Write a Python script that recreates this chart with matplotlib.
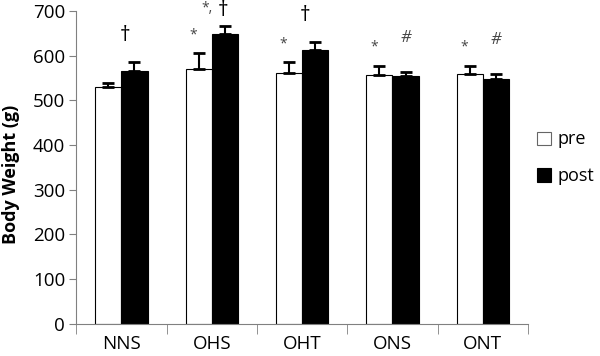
import numpy as np
import matplotlib.pyplot as plt

plt.rcParams['font.family'] = ['Open Sans', 'DejaVu Sans']

groups = ['NNS', 'OHS', 'OHT', 'ONS', 'ONT']
pre = [529, 570, 562, 556, 560]
pre_err = [10, 35, 23, 22, 18]
post = [566, 649, 613, 554, 548]
post_err = [20, 18, 18, 10, 12]
pre_marks = ['', '*', '*', '*', '*']
post_marks = ['\u2020', '*, \u2020', '\u2020', '#', '#']

fig = plt.figure(figsize=(6, 3.56), dpi=100)
ax = fig.add_axes([0.127, 0.091, 0.753, 0.878])

x = np.arange(len(groups))
w = 0.29
ekw = dict(lw=1.5, capthick=2)
ax.bar(x - w / 2, pre, w, color='white', edgecolor='black', lw=0.8,
       yerr=[np.zeros(5), pre_err], capsize=4, error_kw=ekw, label='pre')
ax.bar(x + w / 2, post, w, color='black', edgecolor='black', lw=0.8,
       yerr=[np.zeros(5), post_err], capsize=4, error_kw=ekw, label='post')

# significance marks above the bars
for i in range(len(groups)):
    top_pre = pre[i] + pre_err[i]
    top_post = post[i] + post_err[i]
    if pre_marks[i]:
        ax.text(x[i] - w / 2 - 0.06, top_pre + 42, pre_marks[i],
                ha='center', va='center', fontsize=10, color='#444444')
    m = post_marks[i]
    if m == '#':
        ax.text(x[i] + w / 2, top_post + 75, m, ha='center', va='center',
                fontsize=12, style='italic', color='#444444')
    elif m.startswith('*'):
        ax.text(x[i] + w / 2 - 0.14, 706, '*,', ha='right', va='center',
                fontsize=10, color='#444444')
        ax.text(x[i] + w / 2 - 0.02, 702, '\u2020', ha='center', va='center',
                fontsize=15)
    else:
        ax.text(x[i] + w / 2 - 0.11, top_post + 60, m, ha='center',
                va='center', fontsize=15)

ax.set_xlim(-0.5, 4.5)
ax.set_ylim(0, 700)
ax.set_yticks(np.arange(0, 701, 100))
ax.set_xticks(x)
ax.set_xticklabels(groups)
ax.set_xticks(np.arange(-0.5, 5, 1), minor=True)
ax.tick_params(axis='x', which='major', length=0, pad=8, labelsize=13.5)
ax.tick_params(axis='x', which='minor', length=7, color='#808080', direction='out')
ax.tick_params(axis='y', length=5, color='#808080', labelsize=13.5, pad=3)

for s in ['top', 'right']:
    ax.spines[s].set_visible(False)
for s in ['left', 'bottom']:
    ax.spines[s].set_color('#808080')

ax.set_ylabel('Body Weight (g)', fontweight='bold', fontsize=13)
ax.yaxis.set_label_coords(-0.125, 0.476)

leg = ax.legend(loc='upper left', bbox_to_anchor=(0.985, 0.67), frameon=False,
                fontsize=13, handlelength=0.75, handleheight=0.75,
                handletextpad=0.35, labelspacing=1.05)
leg.legend_handles[0].set_edgecolor('#666666')

fig.savefig('out.png', dpi=100)
